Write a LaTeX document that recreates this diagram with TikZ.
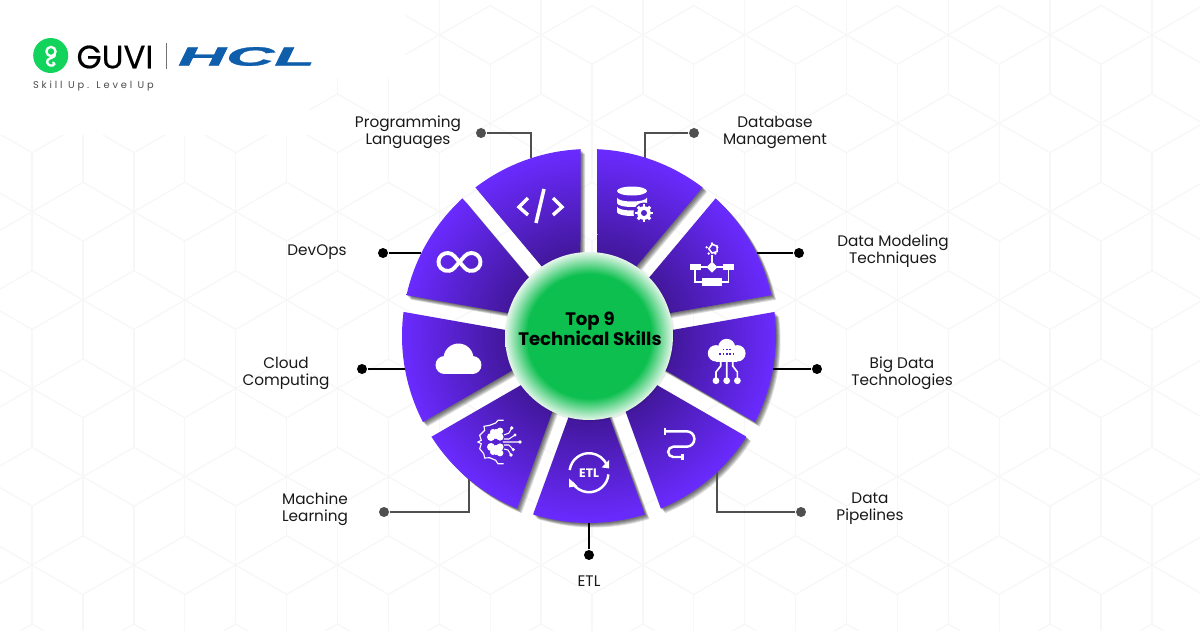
\documentclass[tikz,border=0pt]{standalone}
\usepackage{fontspec}
\usepackage{xcolor}
\setmainfont{Poppins}
\newfontfamily\tagfont[LetterSpace=29]{Poppins}
\newfontfamily\guvifont[FakeBold=0.5]{Poppins}
\newfontfamily\hclfont[FakeBold=1.2]{Liberation Sans Bold Italic}
\definecolor{wheeldark}{HTML}{42179A}
\definecolor{wheellight}{HTML}{6A2BFF}
\definecolor{iconpurple}{HTML}{5522CC}
\definecolor{hubgreen}{HTML}{0CBF4E}
\definecolor{hubedge}{HTML}{E3F6E9}
\definecolor{guvigreen}{HTML}{12D45C}
\definecolor{hclblue}{HTML}{0F5EAC}
\definecolor{gridline}{HTML}{F7F7F7}
\definecolor{wiregray}{HTML}{4F4F4F}
\pgfdeclareradialshading{wheelpurple}{\pgfpointorigin}{color(0bp)=(wheeldark);color(11bp)=(wheeldark);color(25bp)=(wheellight);color(50bp)=(wheellight)}
\pgfdeclareradialshading{skillgreen}{\pgfpointorigin}{color(0bp)=(hubgreen);color(18.5bp)=(hubgreen);color(25bp)=(hubedge);color(50bp)=(hubedge)}

\begin{document}
\begin{tikzpicture}[
      x = 0.02cm, y = 0.02cm, % one unit is one pixel of the reference
      semithick, % line style
      wedgepath/.style={insert path={(#1+20:24.9) -- (#1+2.6:187)
        arc[start angle=#1+2.6, end angle=#1+37.4, radius=187] -- cycle}},
      elbow/.style={to path={-| (\tikztotarget)}},
    ]

    \tikzstyle{dotblack}=[circle, fill = black, inner sep = 0pt, minimum size = 5.7pt]
    \tikzstyle{dotgray}=[dotblack, fill = wiregray]
    \tikzstyle{wireblack}=[draw = black, line width = 1.2pt]
    \tikzstyle{wiregray}=[draw = wiregray, line width = 1.2pt]
    \tikzstyle{label}=[align = center, font = \fontsize{8.7}{9.6}\selectfont, text = black!90]
    \tikzstyle{iconline}=[draw = white, line width = 1.1pt, fill = none]

    \path[use as bounding box, clip] (-589, -294) rectangle (611, 336);
    \fill[white] (-589, -294) rectangle (611, 336);

    % cube pattern behind everything
    \foreach \row in {-1, ..., 7} {
      \foreach \col in {-1, ..., 12} {
        \pgfmathsetmacro{\gx}{-589 + 32.1 + \col*101.8 + mod(\row + 1, 2)*50.9}
        \pgfmathsetmacro{\gy}{336 - 123.3 - \row*88.35}
        \foreach \ang in {30, 90, ..., 330}
          \draw[gridline, line width = 0.7pt] (\gx, \gy) -- ++(\ang:58.8);
      }
    }
    \fill[white] (-589, 201) rectangle (-279, 336);
    \fill[white] (-589, 258) rectangle (-184, 336);

    % wedge shadows
    \foreach \a in {-110, -70, -30, 10, 50, 90, 130, 170, 210}
      \foreach \s in {1, ..., 5}
        \fill[black, opacity = 0.15, shift = {(0.9*\s, -0.9*\s)}, wedgepath = \a];

    \coordinate (tipprog) at (-58, 177.8);
    \coordinate (tipdb) at (56, 178.4);
    \coordinate (tipmodel) at (167.6, 83);
    \coordinate (tipbig) at (184, -33);
    \coordinate (tippipe) at (128, -136.3);
    \coordinate (tipetl) at (0, -187);
    \coordinate (tipml) at (-120, -143.4);
    \coordinate (tipcloud) at (-184, -33);
    \coordinate (tipdev) at (-167.6, 83);

    \node[dotgray] (dotprog) [at={(-108, 203)}] {};
    \node[dotgray] (dotdb) [at={(105, 203)}] {};
    \node[dotblack] (dotmodel) [at={(210, 83)}] {};
    \node[dotblack] (dotbig) [at={(228, -33)}] {};
    \node[dotgray] (dotpipe) [at={(212, -176)}] {};
    \node[dotblack] (dotetl) [at={(0, -219)}] {};
    \node[dotgray] (dotml) [at={(-205, -176)}] {};
    \node[dotblack] (dotcloud) [at={(-227, -33)}] {};
    \node[dotblack] (dotdev) [at={(-206, 83)}] {};

    \path[wiregray] (dotprog) edge[elbow] (tipprog);
    \path[wiregray] (dotdb) edge[elbow] (tipdb);
    \path[wireblack] (dotmodel) edge (tipmodel);
    \path[wireblack] (dotbig) edge (tipbig);
    \path[wiregray] (dotpipe) edge[elbow] (tippipe);
    \path[wireblack] (dotetl) edge (tipetl);
    \path[wiregray] (dotml) edge[elbow] (tipml);
    \path[wireblack] (dotcloud) edge (tipcloud);
    \path[wireblack] (dotdev) edge (tipdev);

    % the nine wedges
    \foreach \a in {-110, -70, -30, 10, 50, 90, 130, 170, 210} {
      \begin{scope}
        \clip[wedgepath = \a];
        \shade[shading = wheelpurple] (0, 0) circle (187);
      \end{scope}
    }

    \fill[black, opacity = 0.08] (1, -1) circle (84.5);
    \node[circle, shading = skillgreen, inner sep = 0pt, minimum size = 3.36cm] (hub) [at={(0, 0)}] {};
    \node[align = center, font = \fontsize{10.3}{11.4}\selectfont\bfseries, text = black] (hubtitle) [at={(1, 7)}] {Top 9\\Technical Skills};

    % programming icon
    \begin{scope}[shift = {(-48, 129)}]
      \draw[iconline, line width = 2pt] (-13, 9) -- (-22, 0) -- (-13, -8);
      \draw[iconline, line width = 2pt] (3, 18) -- (-5, -16);
      \draw[iconline, line width = 2pt] (12, 9) -- (21, 0) -- (12, -8);
    \end{scope}

    % database icon
    \begin{scope}[shift = {(43, 133)}]
      \fill[white] (0, 12) ellipse (15 and 4.5);
      \foreach \y in {5.5, -3.5}
        \fill[white] (-15, \y) arc[start angle=180, end angle=360, x radius=15, y radius=4]
          -- (15, \y-5.5) arc[start angle=0, end angle=-180, x radius=15, y radius=4] -- cycle;
      \fill[iconpurple] (12, -10) circle (10.5);
      \foreach \ang in {0, 45, ..., 315}
        \draw[white, line width = 1.7pt] (12, -10) -- ++(\ang:8.8);
      \fill[white] (12, -10) circle (6.8);
      \fill[iconpurple] (12, -10) circle (3);
    \end{scope}

    % data modeling icon
    \begin{scope}[shift = {(123, 69)}]
      \draw[iconline, line width = 0.9pt] (0, 18) ++(90:4.6) -- ++(-126:5.4) -- ++(-54:5.4) -- ++(18:5.4) -- ++(90:5.4) -- cycle;
      \foreach \ang in {90, 162, 234, 306, 18}
        \fill[white] (0, 18) ++(\ang:5.6) circle (1.3);
      \draw[iconline, line width = 0.6pt] (0, 12) -- (0, 5) (-11, 0) -- (-5, 0) (5, 0) -- (11, 0);
      \fill[white] (0, 5.5) -- (5.5, 0) -- (0, -5.5) -- (-5.5, 0) -- cycle;
      \fill[white] (-22.5, -3) rectangle (-11.5, 3);
      \fill[white] (11, -3) rectangle (22, 3);
      \fill[white] (-10, -19) rectangle (10, -11);
      \draw[iconline, line width = 0.6pt] (-17, -3) |- (-10, -15) (16.5, -3) |- (10, -15);
    \end{scope}

    % devops icon
    \begin{scope}[shift = {(-129.5, 74)}]
      \draw[iconline, line width = 2.2pt] (-5.25, -5.95) -- (5.25, 5.95)
        arc[start angle=138.6, end angle=-138.6, radius=9] -- (-5.25, 5.95)
        arc[start angle=41.4, end angle=318.6, radius=9] -- cycle;
    \end{scope}

    % cloud icon
    \begin{scope}[shift = {(-130.5, -23)}]
      \fill[white] (-14, -6) circle (9) (14, -6) circle (9) (0, 0.5) circle (15);
      \fill[white] (-14, -15) rectangle (14, -3);
    \end{scope}

    % big data icon
    \begin{scope}[shift = {(137.7, -24)}]
      \fill[white] (-10.7, 6.7) circle (8.2) (10.7, 6.7) circle (8.2) (0, 12.7) circle (8.5);
      \fill[white] (-10.7, -1.5) rectangle (10.7, 9);
      \foreach \dx in {-3.3, 0, 3.3}
        \fill[iconpurple] (\dx-0.8, 9.9) rectangle +(1.6, 1.6);
      \foreach \dx in {-6.6, -3.3, 0, 3.3, 6.6}
        \fill[iconpurple] (\dx-0.8, 5.5) rectangle +(1.6, 1.6);
      \draw[iconline, line width = 0.95pt] (0, -1.5) -- (0, -18)
        (-6, -1.5) -- (-6, -6) -- (-10.7, -12) -- (-10.7, -18)
        (6, -1.5) -- (6, -6) -- (10.7, -12) -- (10.7, -18);
      \fill[white] (0, -20.7) circle (3.4) (-10.7, -20.7) circle (3.4) (10.7, -20.7) circle (3.4);
    \end{scope}

    % pipeline icon
    \begin{scope}[shift = {(87, -108)}]
      \draw[iconline, line width = 1.4pt] (-11, 12.7) -- (10.7, 12.7) arc[start angle=90, end angle=-90, radius=7.7]
        -- (-2.7, -2.7) arc[start angle=90, end angle=270, radius=5.15] -- (6.7, -13);
      \draw[iconline, line width = 1.4pt] (-11, 9.5) -- (-11, 16) (6.7, -9.8) -- (6.7, -16.4);
    \end{scope}

    % etl icon
    \begin{scope}[shift = {(0, -136.7)}]
      \draw[iconline, line width = 1.4pt] (172:19.5) arc[start angle=172, end angle=25, radius=19.5];
      \draw[iconline, line width = 1.4pt] (-5:19.5) arc[start angle=-5, end angle=-150, radius=19.5];
      \fill[white] (20, 12.7) -- (20, 4.3) -- (12.7, 5.3) -- cycle;
      \fill[white] (-20, -5.7) -- (-20, -14.7) -- (-11.7, -13.3) -- cycle;
      \node[font = \fontsize{7}{8}\selectfont\bfseries, text = white, inner sep = 0pt] (etltext) [at={(0, 0)}] {ETL};
    \end{scope}

    % machine learning icon
    \begin{scope}[shift = {(-91, -106)}]
      \draw[iconline, line width = 0.65pt] (5.7, 21.7) -- (0, 21.7) -- (-2.3, 19) -- (-8.3, 16.7) -- (-14, 15.7) -- (-13.3, 11.7)
        -- (-18.3, 6.7) -- (-16.7, 1.7) -- (-20, 0) -- (-16.7, -1.7) -- (-18.3, -6.7) -- (-14.3, -11.7) -- (-13.3, -16)
        -- (-8.3, -15.7) -- (-2.3, -18.3) -- (0, -21.7) -- (5.7, -21.7);
      \foreach \sgn in {1, -1}
        \fill[white] (-7, 5*\sgn) circle (4) (-2, 8*\sgn) circle (5) (2, 5*\sgn) circle (3.6)
          (2, 11*\sgn) circle (3.4) (-5, 10*\sgn) circle (3);
      \draw[iconline, line width = 0.6pt] (5, 0) -- (22, 0)
        (6, 3) -- (11, 3) -- (17, 7) (6, 7) -- (11, 9) -- (13.7, 14)
        (6, -3) -- (11, -3) -- (15.3, -7.7) (6, -7) -- (10, -8) -- (13, -13);
      \fill[white] (22, 0) circle (1.9) (17, 7) circle (1.7) (13.7, 14) circle (1.9) (15.3, -7.7) circle (1.7) (13, -13) circle (1.9);
    \end{scope}

    % logo
    \node[circle, fill = guvigreen, inner sep = 0pt, minimum size = 0.7cm] (guvicircle) [at={(-538.3, 280.5)}] {};
    \begin{scope}[shift = {(-538.3, 280.5)}]
      \draw[iconline, line width = 1.3pt] (0.3, 4) circle (4.6);
      \draw[iconline, line width = 1.3pt, line cap = round] (4.2, 1) .. controls (5, -2) and (-1, -2) .. (-3, -4.5)
        .. controls (-5, -8) and (-1, -11) .. (2, -10) .. controls (4, -9.5) and (4, -7.5) .. (2.5, -7);
    \end{scope}
    \node[font = \guvifont\fontsize{18.4}{19}\selectfont, text = black, inner sep = 0pt] (guvitext) [at={(-474, 279)}] {GUVI};
    \draw[black!55, line width = 0.5pt] (-423, 293) -- (-423, 267);
    \node[font = \hclfont\fontsize{15}{16}\selectfont, text = hclblue, inner sep = 0pt] (hcltext) [at={(-342.5, 279.5)}] {\scalebox{2.53}[1]{HCL}};
    \node[font = \tagfont\fontsize{5.6}{6}\selectfont, text = black!70, inner sep = 0pt] (tagline) [at={(-495.5, 250)}] {Skill Up. Level Up};

    % labels
    \node[label] (lblprog) [at={(-181, 204)}] {Programming\\Languages};
    \node[label] (lbldb) [at={(186, 204)}] {Database\\Management};
    \node[label] (lblmodel) [at={(304, 85)}] {Data Modeling\\Techniques};
    \node[label] (lblbig) [at={(313, -37)}] {Big Data\\Technologies};
    \node[label] (lblpipe) [at={(281, -173)}] {Data\\Pipelines};
    \node[label] (lbletl) [at={(0, -245)}] {ETL};
    \node[label] (lblml) [at={(-274, -173)}] {Machine\\Learning};
    \node[label] (lblcloud) [at={(-303, -37)}] {Cloud\\Computing};
    \node[label] (lbldev) [at={(-272, 84)}] {DevOps};

  \end{tikzpicture}
\end{document}
